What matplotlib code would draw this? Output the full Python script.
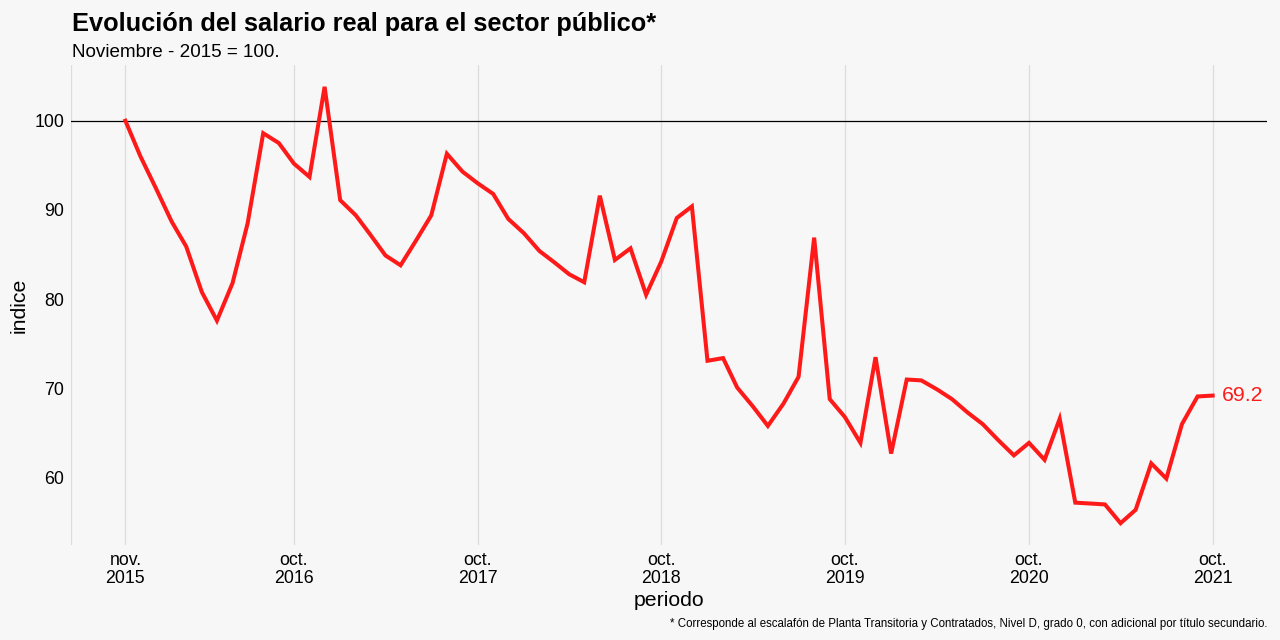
import matplotlib
matplotlib.use("Agg")
import matplotlib.pyplot as plt
import matplotlib.dates as mdates
import pandas as pd
import numpy as np

# ---- data ----
start_month = "2015-11-01"
indice = [100.0, 96.0, 92.4, 88.7, 85.9, 80.8, 77.6, 81.8, 88.5, 98.6, 97.5, 95.2,
          93.7, 103.8, 91.1, 89.4, 87.3, 84.9, 83.8, 86.6, 89.4, 96.3, 94.3, 93.0,
          91.8, 89.0, 87.4, 85.4, 84.2, 82.8, 81.9, 91.6, 84.4, 85.7, 80.5, 84.2,
          89.1, 90.4, 73.1, 73.4, 70.1, 68.0, 65.8, 68.3, 71.3, 86.9, 68.8, 66.8,
          63.9, 73.5, 62.7, 71.0, 70.9, 69.9, 68.8, 67.3, 66.0, 64.2, 62.5, 63.9,
          62.0, 66.6, 57.2, 57.1, 57.0, 54.9, 56.4, 61.6, 59.9, 66.0, 69.1, 69.2]
tick_dates = ["2015-11-01", "2016-10-01", "2017-10-01", "2018-10-01",
              "2019-10-01", "2020-10-01", "2021-10-01"]
tick_labels = ["nov.\n2015", "oct.\n2016", "oct.\n2017", "oct.\n2018",
               "oct.\n2019", "oct.\n2020", "oct.\n2021"]
y_ticks = [60, 70, 80, 90, 100]
title = "Evolución del salario real para el sector público*"
subtitle = "Noviembre - 2015 = 100."
caption = ("* Corresponde al escalafón de Planta Transitoria y Contratados, Nivel D, "
           "grado 0, con adicional por título secundario.")

periodo = pd.date_range(start_month, periods=len(indice), freq="MS")
ticks = pd.to_datetime(tick_dates)

plt.rcParams['font.family'] = ['Liberation Sans', 'DejaVu Sans']

bg = "#F7F7F7"
red = "#FF1A1A"
fig = plt.figure(figsize=(12.8, 6.4), dpi=100, facecolor=bg)
ax = fig.add_axes([71/1280, 1 - 545/640, (1267 - 71)/1280, (545 - 65)/640])
ax.set_facecolor(bg)

# limits with 5% expansion (ggplot style)
xn = mdates.date2num(periodo)
xr = xn[-1] - xn[0]
ax.set_xlim(xn[0] - 0.05 * xr, xn[-1] + 0.05 * xr)
yr = max(indice) - min(indice)
ax.set_ylim(min(indice) - 0.05 * yr, max(indice) + 0.05 * yr)

# grid
for t in ticks:
    ax.axvline(t, color="#DCDCDC", lw=0.9, zorder=0)
ax.axvline(mdates.num2date(xn[0] - 0.05 * xr), color="#DCDCDC", lw=0.9, zorder=0)

ax.axhline(100, color="black", lw=0.9, zorder=1)
ax.plot(periodo, indice, color=red, lw=2.9, zorder=3, solid_joinstyle="miter")

ax.annotate(f"{indice[-1]:.1f}", xy=(periodo[-1], indice[-1]), xytext=(7, 0),
            textcoords="offset points", color=red, fontsize=15.3, va="center", ha="left")

for s in ax.spines.values():
    s.set_visible(False)

ax.set_xticks(ticks)
ax.set_xticklabels(tick_labels, fontsize=12.8, linespacing=1.1)
ax.set_yticks(y_ticks)
ax.set_yticklabels([str(v) for v in y_ticks], fontsize=12.8)
ax.tick_params(axis="both", length=0, colors="black")
ax.tick_params(axis="x", pad=5)
ax.tick_params(axis="y", pad=5)

ax.set_xlabel("periodo", fontsize=15.3, labelpad=3)
ax.set_ylabel("indice", fontsize=15.3, labelpad=4)

fig.text(72/1280, 1 - 31/640, title, fontsize=18.25, fontweight="bold", ha="left", va="baseline")
fig.text(72/1280, 1 - 57/640, subtitle, fontsize=13.55, ha="left", va="baseline")
fig.text(1267/1280, 1 - 627/640, caption, fontsize=8.3, ha="right", va="baseline")

fig.savefig("out.png", dpi=100, facecolor=bg)
